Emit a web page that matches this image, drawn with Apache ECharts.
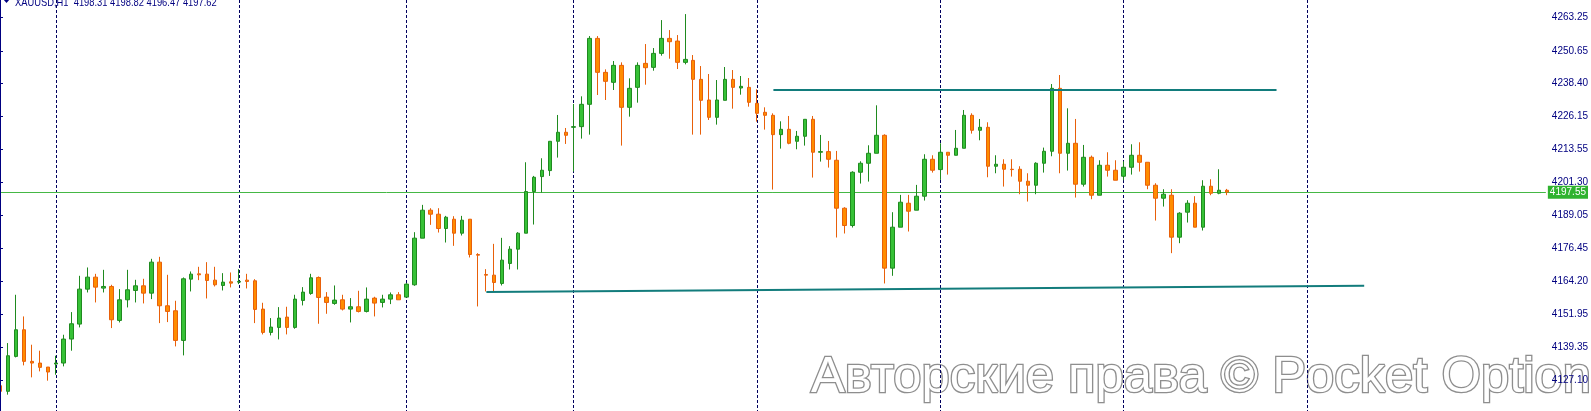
<!DOCTYPE html>
<html>
<head>
<meta charset="utf-8">
<script src="https://cdn.jsdelivr.net/npm/echarts@6.0.0/dist/echarts.min.js"></script>
<style>
html,body{margin:0;padding:0;background:#fff;}
#chart{width:1591px;height:411px;}
</style>
</head>
<body>
<div id="chart"></div>
<script>
// ---- data (XAUUSD, H1) ----
const opens = [4124.95,4122.83,4135.95,4145.95,4134.08,4133.45,4131.95,4133.08,4133.45,4142.45,
4148.08,4161.2,4165.7,4161.58,4162.2,4149.45,4157.2,4160.7,4162.45,4159.7,
4171.33,4154.95,4153.08,4141.95,4164.95,4166.95,4166.83,4164.58,4162.58,4163.95,
4163.83,4164.58,4164.33,4153.7,4144.95,4146.83,4150.7,4146.83,4156.95,4159.58,
4165.58,4158.2,4155.83,4157.2,4153.7,4154.58,4152.83,4157.83,4156.2,4157.45,
4159.08,4158.2,4162.83,4180.33,4190.83,4189.33,4183.95,4187.45,4182.2,4187.45,
4174.2,4166.7,4166.45,4163.33,4170.83,4176.2,4182.2,4197.83,4203.45,4205.7,
4216.7,4220.08,4221.95,4222.2,4230.58,4255.33,4242.58,4238.83,4245.2,4229.45,
4236.95,4245.95,4244.45,4249.7,4255.33,4254.33,4246.33,4247.08,4239.95,4232.2,
4225.7,4232.08,4239.95,4236.7,4236.95,4230.95,4227.58,4226.45,4219.2,4221.2,
4216.7,4218.58,4224.95,4212.58,4212.83,4209.58,4191.58,4185.08,4205.08,4208.45,
4212.2,4218.95,4169.08,4184.45,4193.45,4190.83,4196.08,4209.95,4206.08,4212.58,
4211.45,4214.08,4226.45,4220.83,4221.95,4207.33,4208.08,4206.2,4206.2,4201.7,
4200.2,4208.45,4212.95,4236.58,4212.2,4215.95,4200.58,4210.7,4196.45,4207.7,
4205.83,4203.58,4206.95,4211.45,4208.83,4200.2,4195.33,4196.45,4180.7,4190.08,
4193.45,4184.45,4199.83,4197.2,4198.31];
const closes = [4122.83,4136.2,4145.95,4134.08,4133.45,4131.83,4130.08,4133.45,4142.45,4148.2,
4161.2,4165.7,4161.95,4162.2,4149.7,4157.2,4160.95,4162.45,4159.7,4171.33,
4154.95,4152.83,4141.95,4165.08,4166.83,4166.58,4164.45,4162.83,4163.83,4163.45,
4164.08,4164.08,4153.58,4144.95,4146.95,4150.33,4146.83,4157.45,4160.08,4165.45,
4158.08,4156.2,4157.08,4153.7,4154.58,4152.83,4157.45,4155.95,4157.45,4159.08,
4157.2,4163.08,4180.33,4190.83,4189.33,4183.95,4188.2,4182.2,4187.08,4174.2,
4173.95,4166.45,4163.7,4172.08,4176.2,4182.2,4197.83,4203.2,4205.83,4216.7,
4220.08,4218.95,4222.2,4230.58,4255.33,4242.58,4239.2,4245.2,4229.45,4236.58,
4245.2,4244.33,4249.7,4255.33,4254.08,4246.33,4247.45,4239.95,4232.08,4225.7,
4232.2,4239.95,4236.95,4237.33,4231.33,4227.2,4226.45,4219.2,4221.2,4215.95,
4218.58,4224.95,4212.58,4212.83,4209.95,4191.58,4185.08,4205.08,4208.45,4212.2,
4218.95,4169.08,4184.45,4193.83,4190.45,4196.08,4209.95,4205.83,4212.58,4211.45,
4214.08,4226.45,4220.83,4221.95,4207.33,4208.08,4206.2,4206.08,4201.7,4200.2,
4208.45,4212.95,4236.58,4212.2,4215.95,4200.58,4210.7,4196.45,4207.7,4205.83,
4202.08,4206.95,4211.45,4208.83,4200.2,4195.33,4196.83,4180.7,4189.7,4193.45,
4184.45,4199.83,4197.2,4198.33,4197.62];
const lows = [4117.83,4121.58,4135.58,4132.58,4128.08,4130.33,4126.83,4129.08,4132.2,4138.08,
4146.83,4159.95,4156.2,4159.95,4146.58,4148.7,4154.33,4156.2,4155.83,4157.45,
4148.45,4148.83,4139.7,4136.33,4160.33,4164.58,4157.7,4162.2,4160.7,4161.83,
4163.08,4161.45,4148.45,4144.2,4143.83,4142.33,4144.2,4146.33,4155.08,4159.08,
4148.2,4151.95,4155.33,4153.2,4148.7,4152.45,4152.45,4150.95,4154.33,4155.58,
4157.2,4158.2,4162.45,4180.33,4185.33,4182.45,4178.7,4177.45,4181.33,4173.08,
4154.7,4160.33,4160.33,4162.58,4168.58,4168.58,4182.2,4185.45,4197.45,4203.7,
4210.58,4215.7,4205.33,4217.7,4219.2,4234.08,4232.2,4235.95,4215.08,4225.95,
4231.2,4237.95,4243.2,4248.83,4247.7,4243.83,4245.58,4219.2,4219.2,4224.7,
4222.95,4232.08,4228.95,4234.2,4229.7,4224.08,4221.08,4198.58,4213.95,4215.58,
4213.7,4215.08,4203.08,4209.08,4206.83,4180.58,4182.08,4184.33,4200.83,4201.58,
4212.2,4163.33,4166.2,4184.45,4182.83,4190.83,4194.45,4204.95,4202.2,4204.2,
4211.45,4214.08,4219.58,4217.08,4203.2,4204.7,4199.7,4203.45,4196.83,4194.08,
4196.83,4204.95,4211.08,4204.7,4205.7,4195.58,4199.7,4194.95,4196.45,4203.45,
4202.08,4202.08,4204.2,4205.33,4198.7,4186.95,4192.2,4174.7,4178.45,4186.2,
4184.45,4183.2,4196.45,4196.83,4196.47];
const highs = [4133.45,4140.95,4159.08,4150.95,4140.33,4138.08,4131.95,4136.2,4144.08,4152.58,
4166.2,4169.33,4166.95,4168.45,4162.83,4161.2,4168.45,4164.7,4165.08,4172.58,
4173.33,4166.58,4156.83,4165.58,4167.83,4169.58,4171.33,4169.58,4167.2,4167.45,
4168.7,4166.95,4164.95,4156.08,4150.33,4154.45,4154.58,4159.08,4161.95,4166.95,
4165.95,4160.08,4162.58,4159.08,4157.83,4160.58,4161.83,4158.33,4159.08,4159.95,
4160.08,4163.45,4182.58,4192.83,4191.58,4191.58,4188.7,4188.58,4188.7,4187.45,
4174.7,4168.7,4178.2,4180.45,4177.33,4182.58,4208.83,4203.7,4210.33,4216.7,
4226.58,4221.7,4230.7,4233.58,4256.2,4256.2,4243.7,4246.83,4246.33,4240.33,
4246.33,4253.2,4251.7,4262.2,4258.45,4256.58,4264.45,4249.08,4244.95,4241.95,
4239.7,4244.58,4243.45,4241.2,4240.45,4236.2,4229.45,4227.2,4224.2,4226.2,
4220.58,4224.95,4226.2,4219.08,4216.83,4213.08,4191.95,4205.45,4209.2,4215.2,
4230.2,4219.33,4190.08,4196.58,4196.58,4200.33,4211.83,4211.45,4215.95,4212.58,
4220.95,4228.45,4227.2,4225.08,4223.83,4211.45,4209.95,4209.95,4207.33,4204.7,
4208.83,4214.33,4238.2,4241.58,4229.08,4225.08,4215.33,4211.33,4209.58,4212.58,
4209.58,4209.2,4215.58,4216.33,4208.83,4200.95,4198.7,4198.7,4190.08,4194.58,
4196.08,4202.08,4202.45,4206.2,4198.82];

const slotCount = 195;                       // bar slots on the time axis (incl. empty right margin)
const categories = Array.from({length: slotCount}, (_, i) => String(i));
const gridBars = [7, 30, 51, 72, 95, 118, 141, 164];   // bars with vertical dotted grid lines
const yTicks = [4263.25, 4250.65, 4238.40, 4226.15, 4213.55, 4201.30, 4189.05, 4176.45, 4164.20, 4151.95, 4139.35, 4127.10];
const bidPrice = 4197.55;
const resistanceLine = [[97.06, 4235.95], [160.2, 4235.95]];
const supportLine = [[61.04, 4160.13], [171.2, 4162.49]];
const titleText = 'XAUUSD,H1  4198.31 4198.82 4196.47 4197.62';
const watermark = 'Авторские права © Pocket Option';

const ohlc = opens.map((o, i) => [o, closes[i], lows[i], highs[i]]);

const chart = echarts.init(document.getElementById('chart'), null, {renderer: 'canvas'});
const isGrid = (idx) => gridBars.indexOf(idx) >= 0;
const navy = '#000080';
const teal = '#127c7c';

chart.setOption({
  animation: false,
  backgroundColor: '#ffffff',
  grid: {left: 0, right: 40, top: 0, bottom: 0, containLabel: false},
  xAxis: [{
    type: 'category',
    data: categories,
    boundaryGap: false,
    z: 5,
    axisLine: {show: false},
    axisTick: {show: false, interval: isGrid},
    axisLabel: {show: false},
    splitLine: {show: true, interval: isGrid, lineStyle: {color: '#00005e', width: 1, type: [3, 2]}}
  }, {
    type: 'value', min: 0, max: slotCount - 1, show: false
  }],
  yAxis: {
    type: 'value',
    position: 'right',
    scale: true,
    z: 10,
    min: 4115.45,
    max: 4269.74,
    axisLine: {show: true, lineStyle: {color: navy, width: 1}},
    axisTick: {show: true, length: 3, lineStyle: {color: navy}, customValues: yTicks},
    axisLabel: {
      show: true, margin: 6, color: navy, fontSize: 10, fontFamily: '"Liberation Sans", Arial, sans-serif',
      customValues: yTicks, formatter: (v) => Number(v).toFixed(2)
    },
    splitLine: {show: false}
  },
  series: [{
    type: 'candlestick',
    data: ohlc,
    barWidth: 4,
    z: 6,
    itemStyle: {
      color: '#36c136', color0: '#ff8c00',
      borderColor: '#1f8a1f', borderColor0: '#e8600a',
      borderWidth: 1
    },
    markLine: {
      silent: true,
      symbol: ['none', 'none'],
      animation: false,
      lineStyle: {color: '#45b845', width: 1, type: 'solid'},
      label: {
        show: true, position: 'end', distance: 2,
        formatter: () => bidPrice.toFixed(2),
        color: '#ffffff', backgroundColor: '#2fb32f',
        padding: [2, 2, 1, 2], fontSize: 10, fontFamily: '"Liberation Sans", Arial, sans-serif'
      },
      data: [{yAxis: bidPrice}]
    }
  }, {
    type: 'line', xAxisIndex: 1, yAxisIndex: 0,
    data: resistanceLine, symbol: 'none', silent: true,
    lineStyle: {color: teal, width: 2}, z: 7
  }, {
    type: 'line', xAxisIndex: 1, yAxisIndex: 0,
    data: supportLine, symbol: 'none', silent: true,
    lineStyle: {color: teal, width: 2}, z: 7
  }],
  graphic: [{
    type: 'polygon', shape: {points: [[3, -1], [10, -1], [6.5, 3]]},
    style: {fill: navy}, z: 50
  }, {
    type: 'text', x: 15, y: 2.5, scaleX: 0.85, scaleY: 1,
    style: {text: titleText, fill: navy, font: '11px "Liberation Sans", Arial, sans-serif', verticalAlign: 'middle', align: 'left'},
    z: 50
  }, {
    type: 'text', x: 811, y: 378, scaleX: 1.015, scaleY: 1, z: 1,
    style: {
      text: watermark, font: '50px "Liberation Sans", Arial, sans-serif',
      fill: '#ffffff', stroke: '#8e8e8e', lineWidth: 2.6,
      align: 'left', verticalAlign: 'middle',
      shadowBlur: 4, shadowColor: 'rgba(0,0,0,0.5)', shadowOffsetX: 0, shadowOffsetY: 1
    }
  }]
});
</script>
</body>
</html>
